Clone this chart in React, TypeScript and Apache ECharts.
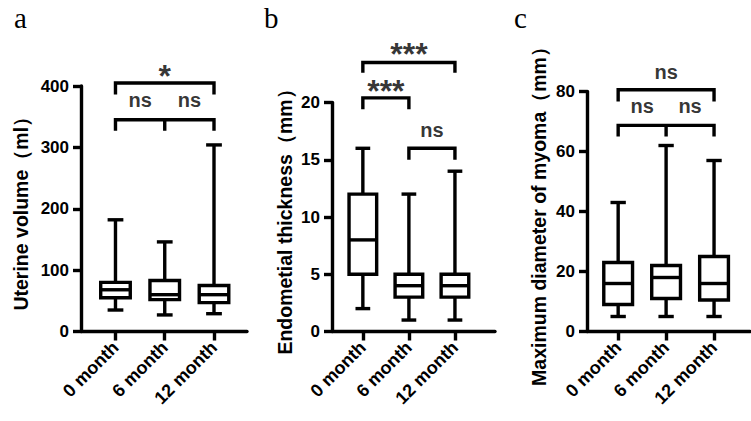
import React, { useEffect, useRef } from 'react';
import * as echarts from 'echarts';

// ---------- data ----------
const categories = ['0 month', '6 month', '12 month'];
const categoryPositions = [0, 1, 2];

// [min, Q1, median, Q3, max]
const uterineVolume = [
  [35, 55, 68, 80, 182],
  [27, 52, 60, 83, 146],
  [29, 47, 60, 75, 304],
];
const endometrialThickness = [
  [2, 5, 8, 12, 16],
  [1, 3, 4, 5, 12],
  [1, 3, 4, 5, 14],
];
const myomaDiameter = [
  [5, 9, 16, 23, 43],
  [5, 11, 18, 22, 62],
  [5, 10.5, 16, 25, 57],
];

// significance brackets: polylines in data coordinates [x, y]
const bracketsA = [
  [[0, 386], [0, 405], [2, 405], [2, 386]],
  [[0, 327], [0, 345], [1, 345], [1, 327], [1, 345], [2, 345], [2, 327]],
];
const bracketsB = [
  [[0, 22.6], [0, 23.5], [2, 23.5], [2, 22.6]],
  [[0, 19.4], [0, 20.4], [1, 20.4], [1, 19.4]],
  [[1, 15], [1, 16], [2, 16], [2, 15]],
];
const bracketsC = [
  [[0, 76.7], [0, 80.6], [2, 80.6], [2, 76.7]],
  [[0, 65], [0, 68.7], [1, 68.7], [1, 65], [1, 68.7], [2, 68.7], [2, 65]],
];

// significance labels [x, y, text]
const marksA: [number, number, string][] = [
  [1, 429, '*'],
  [0.5, 375, 'ns'],
  [1.5, 375, 'ns'],
];
const marksB: [number, number, string][] = [
  [1, 24.9, '***'],
  [0.5, 21.7, '***'],
  [1.5, 17.5, 'ns'],
];
const marksC: [number, number, string][] = [
  [1, 86.1, 'ns'],
  [0.5, 74.8, 'ns'],
  [1.5, 74.8, 'ns'],
];

const yTicksA = { max: 400, interval: 100 };
const yTicksB = { max: 20, interval: 5 };
const yTicksC = { max: 80, interval: 20 };

// ---------- styling / layout ----------
const FONT = '"Liberation Sans", Arial, Helvetica, sans-serif';
const BLACK = '#000';
const LW = 3.4;

const panels = [
  {
    letter: 'a', letterLeft: 9,
    boxes: uterineVolume, ticks: yTicksA, name: 'Uterine volume（ml）',
    brackets: bracketsA, marks: marksA,
    grid: { left: 81, top: 86, width: 166, height: 245.5 },
    xRange: [-0.7, 2.67], nameGap: 50,
  },
  {
    letter: 'b', letterLeft: 259,
    boxes: endometrialThickness, ticks: yTicksB, name: 'Endometial thickness（mm）',
    brackets: bracketsB, marks: marksB,
    grid: { left: 332, top: 102.5, width: 163, height: 229 },
    xRange: [-0.67, 2.87], nameGap: 37,
  },
  {
    letter: 'c', letterLeft: 509,
    boxes: myomaDiameter, ticks: yTicksC, name: 'Maximum diameter of myoma（mm）',
    brackets: bracketsC, marks: marksC,
    grid: { left: 587, top: 91.5, width: 163, height: 240 },
    xRange: [-0.65, 2.75], nameGap: 38,
  },
];

function renderBox(params: any, api: any) {
  const x = api.value(0);
  const pMin = api.coord([x, api.value(1)]);
  const pQ1 = api.coord([x, api.value(2)]);
  const pMed = api.coord([x, api.value(3)]);
  const pQ3 = api.coord([x, api.value(4)]);
  const pMax = api.coord([x, api.value(5)]);
  const unit = api.size([1, 0])[0];
  const bw = unit * 0.6;
  const cw = unit * 0.32;
  const cx = pMed[0];
  const st = { stroke: BLACK, lineWidth: LW, fill: 'none' };
  return {
    type: 'group',
    children: [
      { type: 'line', shape: { x1: cx, y1: pMax[1], x2: cx, y2: pQ3[1] }, style: st },
      { type: 'line', shape: { x1: cx, y1: pQ1[1], x2: cx, y2: pMin[1] }, style: st },
      { type: 'line', shape: { x1: cx - cw / 2, y1: pMax[1], x2: cx + cw / 2, y2: pMax[1] }, style: st },
      { type: 'line', shape: { x1: cx - cw / 2, y1: pMin[1], x2: cx + cw / 2, y2: pMin[1] }, style: st },
      {
        type: 'rect',
        shape: { x: cx - bw / 2, y: pQ3[1], width: bw, height: pQ1[1] - pQ3[1] },
        style: { stroke: BLACK, lineWidth: LW, fill: '#fff' },
      },
      { type: 'line', shape: { x1: cx - bw / 2, y1: pMed[1], x2: cx + bw / 2, y2: pMed[1] }, style: st },
    ],
  };
}

function buildOption() {
  const grid: any[] = [];
  const xAxis: any[] = [];
  const yAxis: any[] = [];
  const series: any[] = [];
  const title: any[] = [];

  panels.forEach((p, i) => {
    grid.push({ ...p.grid, outerBoundsMode: 'none', containLabel: false });
    title.push({
      text: p.letter,
      left: p.letterLeft,
      top: -2,
      textStyle: { fontFamily: '"Liberation Serif", "Times New Roman", serif', fontSize: 29, fontWeight: 'normal', color: BLACK },
    });
    xAxis.push({
      type: 'value',
      gridIndex: i,
      min: p.xRange[0],
      max: p.xRange[1],
      splitLine: { show: false },
      axisLine: { show: true, onZero: false, lineStyle: { color: BLACK, width: LW } },
      axisTick: { show: true, length: 9, customValues: categoryPositions, lineStyle: { color: BLACK, width: LW } },
      axisLabel: {
        show: true,
        customValues: categoryPositions,
        formatter: (v: number) => categories[Math.round(v)] ?? '',
        rotate: 45,
        margin: 13,
        color: BLACK,
        fontFamily: FONT,
        fontWeight: 'bold',
        fontSize: 18,
      },
    });
    yAxis.push({
      type: 'value',
      gridIndex: i,
      min: 0,
      max: p.ticks.max,
      interval: p.ticks.interval,
      name: p.name,
      nameLocation: 'middle',
      nameGap: p.nameGap,
      nameTextStyle: { fontFamily: FONT, fontWeight: 'bold', fontSize: 19.5, color: BLACK },
      splitLine: { show: false },
      axisLine: { show: true, onZero: false, lineStyle: { color: BLACK, width: LW } },
      axisTick: { show: true, length: 8, lineStyle: { color: BLACK, width: LW } },
      axisLabel: { margin: 12, color: BLACK, fontFamily: FONT, fontWeight: 'bold', fontSize: 17 },
    });

    series.push({
      type: 'custom',
      xAxisIndex: i,
      yAxisIndex: i,
      renderItem: renderBox,
      encode: { x: 0, y: [1, 2, 3, 4, 5] },
      data: p.boxes.map((b, k) => [categoryPositions[k], ...b]),
      silent: true,
    });

    p.brackets.forEach((br) => {
      series.push({
        type: 'line',
        xAxisIndex: i,
        yAxisIndex: i,
        data: br,
        symbol: 'none',
        showSymbol: false,
        clip: false,
        silent: true,
        lineStyle: { color: BLACK, width: LW, join: 'miter', cap: 'butt' },
      });
    });

    series.push({
      type: 'scatter',
      xAxisIndex: i,
      yAxisIndex: i,
      symbolSize: 0,
      clip: false,
      silent: true,
      itemStyle: { color: BLACK },
      data: p.marks.map((m) => {
        const star = m[2].startsWith('*');
        return {
          value: [m[0], m[1], m[2]],
          label: star
            ? { fontSize: 32, offset: [0, 8] }
            : { fontSize: 20, offset: [0, -1] },
        };
      }),
      label: {
        show: true,
        position: 'inside',
        formatter: (d: any) => d.value[2],
        color: BLACK,
        textBorderWidth: 0,
        textBorderColor: 'transparent',
        fontFamily: FONT,
        fontWeight: 'bold',
      },
    });
  });

  return {
    animation: false,
    backgroundColor: '#fff',
    title,
    grid,
    xAxis,
    yAxis,
    series,
  };
}

export default function App() {
  const ref = useRef<HTMLDivElement>(null);
  useEffect(() => {
    if (!ref.current) return;
    const chart = echarts.init(ref.current, undefined, { renderer: 'svg' });
    chart.setOption(buildOption() as any);
    return () => chart.dispose();
  }, []);
  return (
    <div
      ref={ref}
      style={{ position: 'fixed', left: 0, top: 0, width: 751, height: 421, background: '#fff' }}
    />
  );
}
